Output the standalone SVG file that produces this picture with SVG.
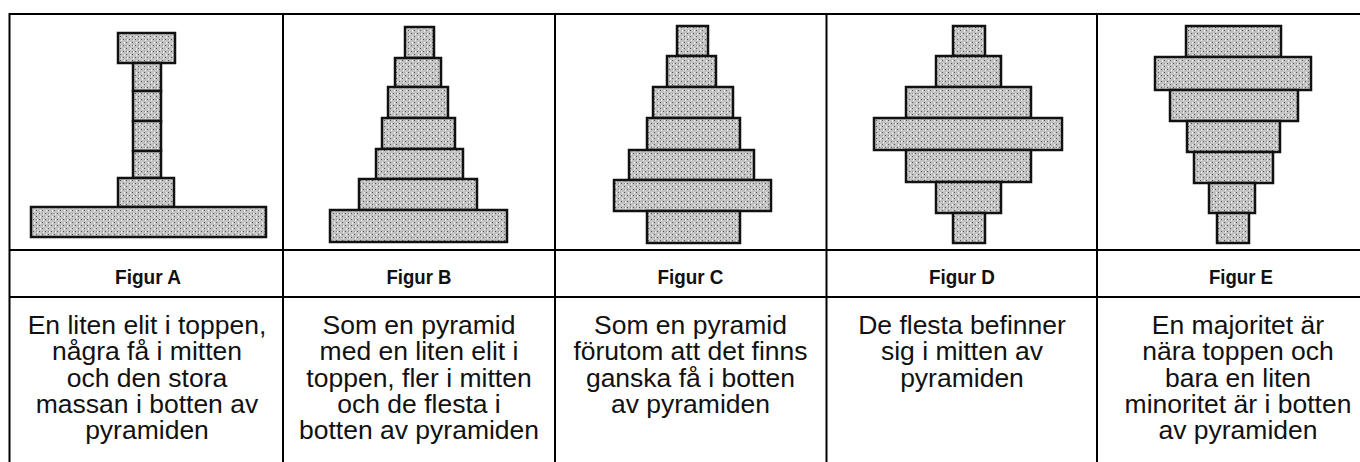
<svg xmlns="http://www.w3.org/2000/svg" width="1360" height="462" viewBox="0 0 1360 462">
<defs>
<pattern id="dots" width="6" height="6" patternUnits="userSpaceOnUse">
<rect width="6" height="6" fill="#c2c2c2"/>
<rect x="0" y="0" width="1" height="1" fill="#555"/>
<rect x="3" y="3" width="1" height="1" fill="#555"/>
<rect x="0" y="3" width="1" height="1" fill="#8a8a8a"/>
<rect x="1" y="3" width="1" height="2" fill="#ececec"/>
<rect x="4" y="0" width="1" height="2" fill="#ececec"/>
</pattern>
</defs>
<style>
.blk{fill:url(#dots);stroke:#111;stroke-width:2.5}
.grid{stroke:#000;stroke-width:2;fill:none}
.lbl{font-family:"Liberation Sans",Arial,sans-serif;font-weight:bold;font-size:21px;fill:#111;text-anchor:middle}
.dsc{font-family:"Liberation Sans",Arial,sans-serif;font-size:26.5px;fill:#111;text-anchor:middle}
</style>
<rect width="1360" height="462" fill="#fff"/>
<g id="table" class="grid">
<line x1="9.5" y1="14" x2="1360" y2="14"/>
<line x1="9.5" y1="250" x2="1360" y2="250"/>
<line x1="9.5" y1="297" x2="1360" y2="297"/>
<line x1="9.5" y1="13" x2="9.5" y2="462"/>
<line x1="283" y1="13" x2="283" y2="462"/>
<line x1="555" y1="13" x2="555" y2="462"/>
<line x1="826.5" y1="13" x2="826.5" y2="462"/>
<line x1="1097" y1="13" x2="1097" y2="462"/>
</g>
<g id="figA">
<rect class="blk" x="118" y="33" width="57" height="30"/>
<rect class="blk" x="133" y="63" width="28" height="28"/>
<rect class="blk" x="133" y="91" width="28" height="30"/>
<rect class="blk" x="133" y="121" width="28" height="30"/>
<rect class="blk" x="133" y="151" width="28" height="27"/>
<rect class="blk" x="118" y="178" width="56" height="29"/>
<rect class="blk" x="31" y="207" width="235" height="30"/>
<text class="lbl" x="148" y="284" textLength="66" lengthAdjust="spacingAndGlyphs">Figur A</text>
<text class="dsc" x="147"><tspan x="147" y="334">En liten elit i toppen,</tspan><tspan x="147" y="360.3">några få i mitten</tspan><tspan x="147" y="386.6">och den stora</tspan><tspan x="147" y="412.9">massan i botten av</tspan><tspan x="147" y="439.2">pyramiden</tspan></text>
</g>
<g id="figB">
<rect class="blk" x="405" y="27" width="29" height="31"/>
<rect class="blk" x="395" y="58" width="46" height="29"/>
<rect class="blk" x="388" y="87" width="60" height="31"/>
<rect class="blk" x="382" y="118" width="73" height="31"/>
<rect class="blk" x="376" y="149" width="87" height="30"/>
<rect class="blk" x="359" y="179" width="118" height="31"/>
<rect class="blk" x="330" y="210" width="177" height="32"/>
<text class="lbl" x="419" y="284" textLength="65" lengthAdjust="spacingAndGlyphs">Figur B</text>
<text class="dsc" x="419"><tspan x="419" y="334">Som en pyramid</tspan><tspan x="419" y="360.3">med en liten elit i</tspan><tspan x="419" y="386.6">toppen, fler i mitten</tspan><tspan x="419" y="412.9">och de flesta i</tspan><tspan x="419" y="439.2">botten av pyramiden</tspan></text>
</g>
<g id="figC">
<rect class="blk" x="677" y="26" width="31" height="30"/>
<rect class="blk" x="667" y="56" width="49" height="31"/>
<rect class="blk" x="653" y="87" width="80" height="31"/>
<rect class="blk" x="647" y="118" width="93" height="32"/>
<rect class="blk" x="629" y="150" width="125" height="30"/>
<rect class="blk" x="614" y="180" width="157" height="31"/>
<rect class="blk" x="647" y="211" width="93" height="32"/>
<text class="lbl" x="690.5" y="284" textLength="66" lengthAdjust="spacingAndGlyphs">Figur C</text>
<text class="dsc" x="690.5"><tspan x="690.5" y="334">Som en pyramid</tspan><tspan x="690.5" y="360.3">förutom att det finns</tspan><tspan x="690.5" y="386.6">ganska få i botten</tspan><tspan x="690.5" y="412.9">av pyramiden</tspan></text>
</g>
<g id="figD">
<rect class="blk" x="953" y="26" width="32" height="30"/>
<rect class="blk" x="936" y="56" width="65" height="31"/>
<rect class="blk" x="906" y="87" width="125" height="31"/>
<rect class="blk" x="874" y="118" width="188" height="32"/>
<rect class="blk" x="906" y="150" width="125" height="32"/>
<rect class="blk" x="936" y="182" width="65" height="31"/>
<rect class="blk" x="953" y="213" width="32" height="30"/>
<text class="lbl" x="962" y="284" textLength="66" lengthAdjust="spacingAndGlyphs">Figur D</text>
<text class="dsc" x="962"><tspan x="962" y="334">De flesta befinner</tspan><tspan x="962" y="360.3">sig i mitten av</tspan><tspan x="962" y="386.6">pyramiden</tspan></text>
</g>
<g id="figE">
<rect class="blk" x="1186" y="26" width="95" height="31"/>
<rect class="blk" x="1155" y="57" width="156" height="33"/>
<rect class="blk" x="1170" y="90" width="128" height="31"/>
<rect class="blk" x="1187" y="121" width="93" height="31"/>
<rect class="blk" x="1194" y="152" width="79" height="31"/>
<rect class="blk" x="1209" y="183" width="46" height="30"/>
<rect class="blk" x="1217" y="213" width="32" height="30"/>
<text class="lbl" x="1241" y="284" textLength="64" lengthAdjust="spacingAndGlyphs">Figur E</text>
<text class="dsc" x="1238"><tspan x="1238" y="334">En majoritet är</tspan><tspan x="1238" y="360.3">nära toppen och</tspan><tspan x="1238" y="386.6">bara en liten</tspan><tspan x="1238" y="412.9">minoritet är i botten</tspan><tspan x="1238" y="439.2">av pyramiden</tspan></text>
</g>
</svg>
